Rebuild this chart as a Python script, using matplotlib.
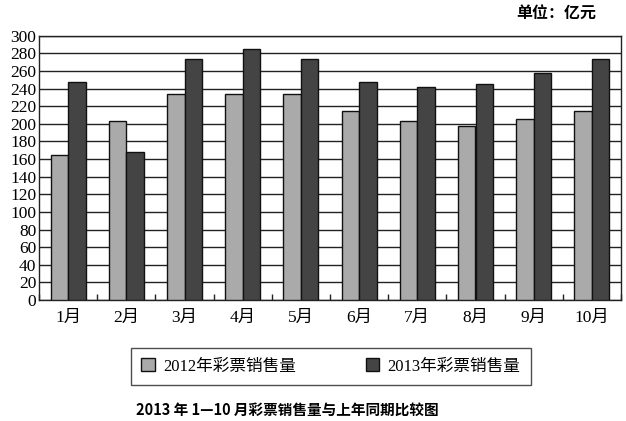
import matplotlib
matplotlib.use("Agg")
import matplotlib.pyplot as plt
import numpy as np
from matplotlib.patches import Patch

months = ["1月", "2月", "3月", "4月", "5月", "6月", "7月", "8月", "9月", "10月"]
sales_2012 = [165, 203, 234, 234, 234, 215, 203, 197, 205, 215]
sales_2013 = [248, 168, 273, 285, 273, 248, 242, 245, 258, 273]
series_names = ["2012年彩票销售量", "2013年彩票销售量"]
y_ticks = list(range(0, 301, 20))

FAM = ["Liberation Serif", "Noto Sans CJK SC"]
CJK = ["Noto Sans CJK SC", "DejaVu Sans"]

fig = plt.figure(figsize=(6.26, 4.21), dpi=100)
ax = fig.add_axes([39/626, 1-300/421, (621-39)/626, (300-35.7)/421])

x = np.arange(len(months))
w = 0.3
c12, c13 = "#aaaaaa", "#444444"
ax.bar(x - w/2, sales_2012, w, color=c12, edgecolor="#111111", linewidth=1.0, zorder=3)
ax.bar(x + w/2, sales_2013, w, color=c13, edgecolor="#111111", linewidth=1.0, zorder=3)

ax.set_xlim(-0.5, len(months) - 0.5)
ax.set_ylim(0, 300)
ax.set_yticks(y_ticks)
ax.set_yticklabels([str(v) for v in y_ticks], family=FAM, fontsize=12.5)
ax.yaxis.grid(True, color="#222222", linewidth=1.0, zorder=0)
ax.tick_params(axis="y", length=0, pad=2)

ax.set_xticks(np.arange(len(months) + 1) - 0.5)
ax.set_xticklabels([])
ax.tick_params(axis="x", which="major", direction="in", length=4, width=1, color="#222222")
ax.set_xticks(x, minor=True)
ax.set_xticklabels(months, minor=True, family=FAM, fontsize=12.5)
ax.tick_params(axis="x", which="minor", length=0, pad=7)

for s in ax.spines.values():
    s.set_linewidth(1.0)
    s.set_color("#222222")

fig.text(596/626, 1-14/421, "单位：亿元", family=CJK, fontsize=11.5, fontweight="bold",
         ha="right", va="center")

handles = [Patch(facecolor=c12, edgecolor="#111111", linewidth=1.0),
           Patch(facecolor=c13, edgecolor="#111111", linewidth=1.0)]
leg = fig.legend(handles, series_names, loc="center", bbox_to_anchor=(331/626, 1-366.5/421),
                 ncol=2, prop={"family": FAM, "size": 12}, frameon=True, fancybox=False,
                 edgecolor="#222222", handlelength=0.8, handleheight=0.8, handletextpad=0.5,
                 columnspacing=4.2, borderpad=0.6, borderaxespad=0)
leg.get_frame().set_linewidth(1.0)

fig.text(287/626, 1-410/421, "2013 年 1—10 月彩票销售量与上年同期比较图", family=CJK,
         fontsize=10.5, fontweight="bold", ha="center", va="center")

fig.savefig("out.png", dpi=100)
